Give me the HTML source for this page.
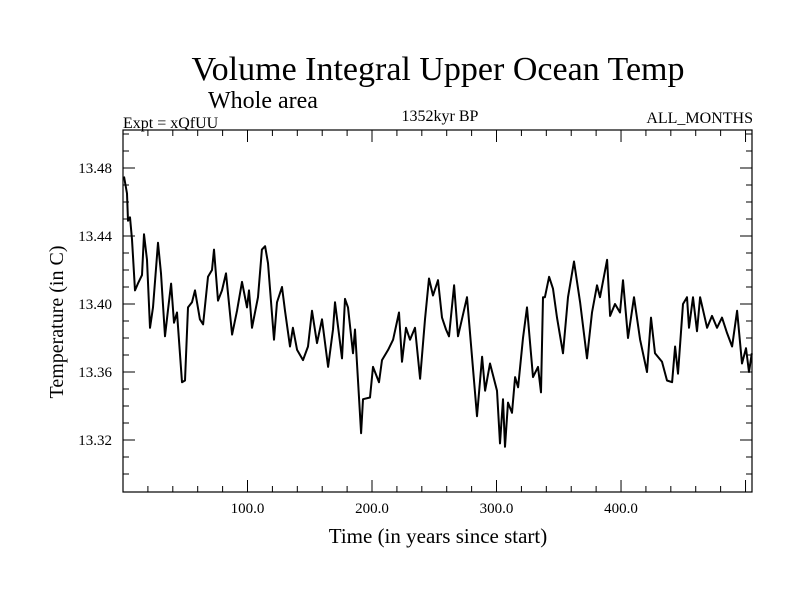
<!DOCTYPE html>
<html><head><meta charset="utf-8"><style>
body{margin:0;background:#fff;}
svg{display:block;font-family:"Liberation Serif",serif;}
</style></head><body>
<svg id="chart" width="800" height="600">
<rect width="800" height="600" fill="#fff"/>
<text x="438" y="80" font-size="34" text-anchor="middle">Volume Integral Upper Ocean Temp</text>
<text x="208" y="108" font-size="24">Whole area</text>
<text x="123" y="128" font-size="16">Expt = xQfUU</text>
<text x="440" y="121" font-size="16" text-anchor="middle">1352kyr BP</text>
<text x="753" y="123" font-size="16" text-anchor="end">ALL_MONTHS</text>
<text x="438" y="543" font-size="21" text-anchor="middle">Time (in years since start)</text>
<text transform="translate(63,322) rotate(-90)" font-size="20" text-anchor="middle">Temperature (in C)</text>
<g id="axes"></g>
<path id="series" fill="none" stroke="#000" stroke-width="2" stroke-linejoin="round"/>
<rect x="123" y="130" width="629" height="362" fill="none" stroke="#000" stroke-width="1.2"/>
</svg>
<script>
const years=[0.8,3.2,4,5.6,7.2,9.6,12,15.3,16.9,19.3,21.7,24.1,28.1,30.5,33.7,36.1,38.6,41,43.4,47.4,49.8,52.2,55.4,57.8,61.8,64.3,68.3,71.5,73.1,76.3,79.5,82.7,87.6,91.6,95.6,99.6,101.2,103.6,108.4,111.6,114.1,116.5,121.3,123.7,127.7,130.1,134.1,136.5,139.8,144.6,148.6,151.8,155.8,159.8,164.7,168.7,170.3,175.9,178.3,180.7,184.7,186.3,191.2,192.8,198.4,200.8,205.6,208,212.9,216.9,221.7,224.1,227.3,230.5,234.5,238.6,242.6,245.8,249,253,256.2,259.4,261.8,265.9,269.1,276.3,284.3,288.4,290.8,294.8,300.4,302.8,305.2,306.8,309.2,312.4,314.9,317.3,321.3,324.5,329.3,333.3,335.7,337.3,338.9,342.2,345.4,348.6,353.4,357.4,362.2,367.1,372.7,376.7,380.7,383.1,388.8,391.2,395.2,399.2,401.6,405.6,410.4,415.3,420.9,424.1,427.3,432.9,436.9,441,443.4,445.8,449.8,453,454.6,457.8,461,463.5,469.1,473.1,477.1,481.1,485.1,489.2,493.2,497.2,500.4,502.8,505];
const temps=[13.475,13.465,13.449,13.451,13.438,13.408,13.412,13.417,13.441,13.426,13.386,13.398,13.436,13.418,13.381,13.396,13.412,13.389,13.395,13.354,13.355,13.398,13.401,13.408,13.391,13.388,13.416,13.420,13.432,13.402,13.408,13.418,13.382,13.396,13.413,13.398,13.408,13.386,13.404,13.432,13.434,13.424,13.379,13.401,13.410,13.396,13.375,13.386,13.373,13.367,13.375,13.396,13.377,13.391,13.363,13.385,13.401,13.368,13.403,13.398,13.371,13.385,13.324,13.344,13.345,13.363,13.354,13.367,13.373,13.379,13.395,13.366,13.386,13.379,13.386,13.356,13.391,13.415,13.405,13.414,13.392,13.385,13.381,13.411,13.381,13.404,13.334,13.369,13.349,13.365,13.349,13.318,13.344,13.316,13.342,13.336,13.357,13.351,13.380,13.398,13.357,13.363,13.348,13.404,13.404,13.416,13.409,13.392,13.371,13.404,13.425,13.401,13.368,13.395,13.411,13.404,13.426,13.393,13.400,13.395,13.414,13.380,13.404,13.379,13.360,13.392,13.371,13.366,13.355,13.354,13.375,13.359,13.400,13.404,13.386,13.404,13.384,13.404,13.386,13.393,13.386,13.392,13.383,13.375,13.396,13.365,13.374,13.360,13.371];
const xTickValues=[100,200,300,400];
const xTickLabels=["100.0","200.0","300.0","400.0"];
const yTickValues=[13.32,13.36,13.40,13.44,13.48];
const yTickLabels=["13.32","13.36","13.40","13.44","13.48"];
const L=123,R=752,T=130,B=492,X0=0,X1=505.2;
function sx(v){return L+(v-X0)/(X1-X0)*(R-L);}
function sy(v){return 168+(13.48-v)*1700;}
const NS="http://www.w3.org/2000/svg";
const ax=document.getElementById('axes');
function line(x1,y1,x2,y2,name){const l=document.createElementNS(NS,'line');l.setAttribute('x1',x1);l.setAttribute('y1',y1);l.setAttribute('x2',x2);l.setAttribute('y2',y2);l.setAttribute('stroke','#000');l.setAttribute('stroke-width','1');


ax.appendChild(l);}
function text(x,y,s,anchor,name){const t=document.createElementNS(NS,'text');t.setAttribute('x',x);t.setAttribute('y',y);t.setAttribute('font-size','15');t.setAttribute('text-anchor',anchor);t.textContent=s;


ax.appendChild(t);}
for(let v=20;v<X1;v+=20){const x=sx(v);const major=v%100===0;const len=major?12:6;
line(x,B,x,B-len,'x-tick');line(x,T,x,T+len,'x-tick-top');}
xTickValues.forEach((v,i)=>text(sx(v),513,xTickLabels[i],'middle','x-tick-label'));
for(let k=0;k<30;k++){const v=13.30+k*0.01;const y=sy(v);if(y<T+1||y>B-1)continue;const major=Math.abs((Math.round(v*100))%4)===0;const len=major?12:6;
line(L,y,L+len,y,'y-tick');line(R,y,R-len,y,'y-tick-right');}
yTickValues.forEach((v,i)=>text(112,sy(v)+5,yTickLabels[i],'end','y-tick-label'));
let d='';years.forEach((yr,i)=>{d+=(i?'L':'M')+sx(yr).toFixed(1)+','+sy(temps[i]).toFixed(1);});
document.getElementById('series').setAttribute('d',d);
</script>
</body></html>
